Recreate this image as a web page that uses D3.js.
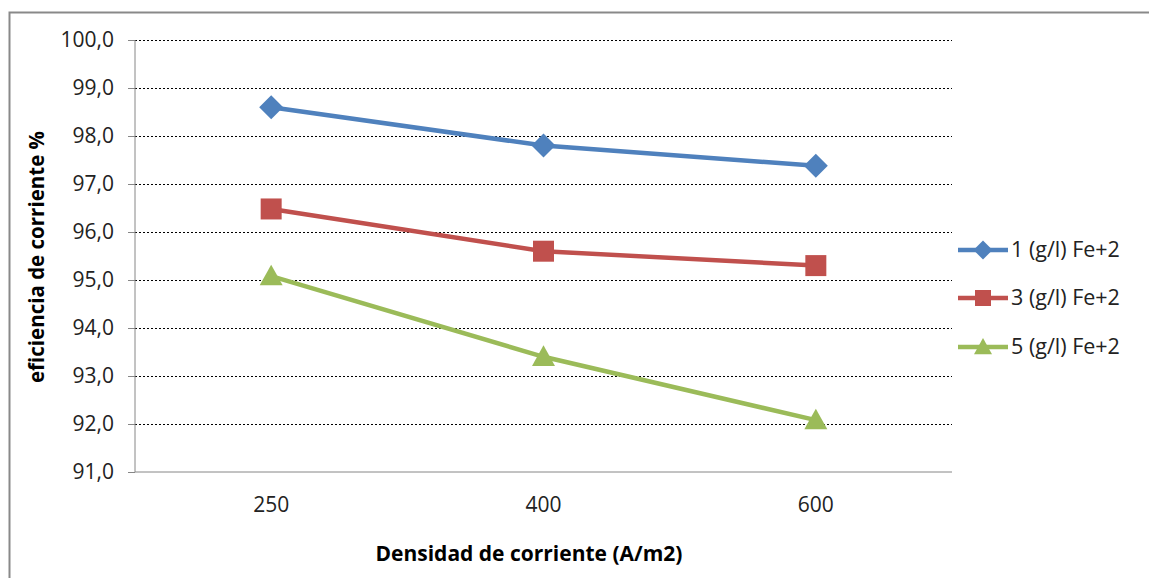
<!DOCTYPE html>
<html><head><meta charset="utf-8">
<script src="https://cdn.jsdelivr.net/npm/d3@7"></script>
<style>html,body{margin:0;padding:0;background:#fff;}svg{display:block;}</style>
</head><body>
<svg id="c" width="1149" height="578"></svg>
<script>
const categories = ["250", "400", "600"];
const seriesNames = ["1 (g/l) Fe+2", "3 (g/l) Fe+2", "5 (g/l) Fe+2"];
const s1 = [98.6, 97.8, 97.38];
const s2 = [96.48, 95.6, 95.3];
const s3 = [95.08, 93.4, 92.08];
const yTicks = [91, 92, 93, 94, 95, 96, 97, 98, 99, 100];
const colors = ["#4F81BD", "#C0504D", "#9BBB59"];
const allSeries = [s1, s2, s3];

const svg = d3.select("#c");
const font = "'Open Sans', sans-serif";
// outer border
svg.append("path").attr("d", "M9.5,578 L9.5,12.5 L1149,12.5").attr("fill", "none").attr("stroke", "#898989").attr("stroke-width", 2);

const L = 135, R = 952, T = 40, B = 472;
const x = d3.scaleBand().domain(categories).range([L, R]);
const y = d3.scaleLinear().domain([91, 100]).range([B, T]);

// gridlines
svg.append("g").selectAll("line").data(yTicks.filter(d => d > 91)).join("line")
  .attr("x1", L).attr("x2", R).attr("y1", d => y(d)).attr("y2", d => y(d))
  .attr("stroke", "#000").attr("stroke-width", 1).attr("stroke-dasharray", "2,2").attr("shape-rendering", "crispEdges");

// y axis
const yAxis = svg.append("g").attr("transform", `translate(${L},0)`)
  .call(d3.axisLeft(y).tickValues(yTicks).tickSize(7).tickPadding(14).tickFormat(d => d3.format(".1f")(d).replace(".", ",")));
yAxis.select(".domain").attr("stroke", "#868686").attr("d", `M0,${T}V${B}`);
yAxis.selectAll(".tick line").attr("stroke", "#868686");
yAxis.selectAll("text").attr("font-family", font).attr("font-size", 21).attr("fill", "#222");

// x axis
const xAxis = svg.append("g").attr("transform", `translate(0,${B})`)
  .call(d3.axisBottom(x).tickSize(0).tickPadding(25));
xAxis.select(".domain").attr("stroke", "#868686").attr("d", `M${L},0H${R}`);
xAxis.selectAll("text").attr("font-family", font).attr("font-size", 21).attr("fill", "#222");

// axis titles
svg.append("text").attr("x", 529).attr("y", 561).attr("text-anchor", "middle")
  .attr("font-family", font).attr("font-size", 21).attr("font-weight", "bold").attr("fill", "#000")
  .text("Densidad de corriente (A/m2)");
svg.append("text").attr("transform", `translate(44,257) rotate(-90)`).attr("text-anchor", "middle")
  .attr("font-family", font).attr("font-size", 20.5).attr("font-weight", "bold").attr("fill", "#000")
  .text("eficiencia de corriente %");

const diamond = s => { const h = s / 2; return `M0,${-h}L${h},0L0,${h}L${-h},0Z`; };
const square = s => { const h = s / 2; return `M${-h},${-h}H${h}V${h}H${-h}Z`; };
const triangle = s => { const h = s / 2; return `M0,${-h * 1.0}L${h},${h * 0.8}L${-h},${h * 0.8}Z`; };
const shapes = [diamond, square, triangle];
const msize = [24, 21, 23];

const line = d3.line().x((d, i) => x(categories[i]) + x.bandwidth() / 2).y(d => y(d));
allSeries.forEach((s, k) => {
  svg.append("path").datum(s).attr("d", line).attr("fill", "none").attr("stroke", colors[k]).attr("stroke-width", 4.5);
  svg.append("g").selectAll("path").data(s).join("path")
    .attr("transform", (d, i) => `translate(${x(categories[i]) + x.bandwidth() / 2},${y(d)})`)
    .attr("d", shapes[k](msize[k])).attr("fill", colors[k]);
});

// legend
const legY = [250, 298, 347];
seriesNames.forEach((n, k) => {
  const g = svg.append("g").attr("transform", `translate(0,${legY[k]})`);
  g.append("line").attr("x1", 958).attr("x2", 1008).attr("y1", 0).attr("y2", 0).attr("stroke", colors[k]).attr("stroke-width", 4.5);
  g.append("path").attr("transform", `translate(983,0)`).attr("d", shapes[k](msize[k] - 5)).attr("fill", colors[k]);
  g.append("text").attr("x", 1011).attr("y", 7).attr("font-family", font).attr("font-size", 21.5).attr("fill", "#222").text(n);
});
</script>
</body></html>
